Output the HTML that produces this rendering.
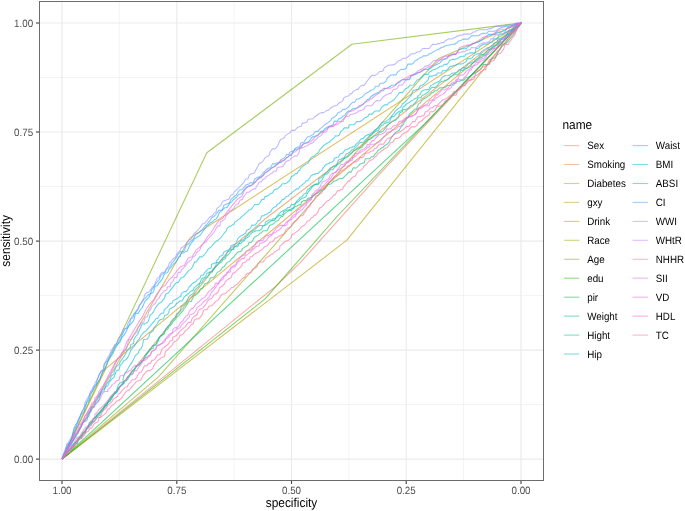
<!DOCTYPE html>
<html><head><meta charset="utf-8"><style>
html,body{margin:0;padding:0;background:#fff;}
body{width:685px;height:511px;overflow:hidden;}
svg{display:block;font-family:"Liberation Sans",sans-serif;will-change:transform;text-rendering:geometricPrecision;}
.gM{stroke:#EBEBEB;stroke-width:1.15;}
.gm{stroke:#EBEBEB;stroke-width:0.6;}
.cv path{fill:none;stroke-width:1.07;stroke-linejoin:round;stroke-opacity:0.62;}
.tk{stroke:#474747;stroke-width:1.15;}
.tl{font-size:9.8px;fill:#4D4D4D;}
.tt{font-size:11.9px;fill:#000;}
.ll{font-size:9.8px;fill:#000;}
.lk{stroke-width:1.1;stroke-opacity:0.5;}
</style></head><body>
<svg width="685" height="511" viewBox="0 0 685 511">
<rect x="0" y="0" width="685" height="511" fill="#fff"/>
<line x1="39.5" x2="543.5" y1="404.6" y2="404.6" class="gm"/>
<line x1="119.4" x2="119.4" y1="1.5" y2="480.5" class="gm"/>
<line x1="39.5" x2="543.5" y1="295.6" y2="295.6" class="gm"/>
<line x1="234.1" x2="234.1" y1="1.5" y2="480.5" class="gm"/>
<line x1="39.5" x2="543.5" y1="186.5" y2="186.5" class="gm"/>
<line x1="348.9" x2="348.9" y1="1.5" y2="480.5" class="gm"/>
<line x1="39.5" x2="543.5" y1="77.5" y2="77.5" class="gm"/>
<line x1="463.6" x2="463.6" y1="1.5" y2="480.5" class="gm"/>
<line x1="39.5" x2="543.5" y1="459.1" y2="459.1" class="gM"/>
<line x1="62.0" x2="62.0" y1="1.5" y2="480.5" class="gM"/>
<line x1="39.5" x2="543.5" y1="350.1" y2="350.1" class="gM"/>
<line x1="176.8" x2="176.8" y1="1.5" y2="480.5" class="gM"/>
<line x1="39.5" x2="543.5" y1="241.1" y2="241.1" class="gM"/>
<line x1="291.5" x2="291.5" y1="1.5" y2="480.5" class="gM"/>
<line x1="39.5" x2="543.5" y1="132.0" y2="132.0" class="gM"/>
<line x1="406.2" x2="406.2" y1="1.5" y2="480.5" class="gM"/>
<line x1="39.5" x2="543.5" y1="23.0" y2="23.0" class="gM"/>
<line x1="521.0" x2="521.0" y1="1.5" y2="480.5" class="gM"/>
<g class="cv">
<path d="M62.0,459.1 275.0,286.8 300.0,262.9 380.0,173.6 521.0,23.0" stroke="#F8766D"/>
<path d="M62.0,459.1 230.0,249.0 265.0,219.0 521.0,23.0" stroke="#EC823C"/>
<path d="M62.0,459.1 105.8,368.7 521.0,23.0" stroke="#DD8D00"/>
<path d="M62.0,459.1 190.0,238.0 521.0,23.0" stroke="#CA9700"/>
<path d="M62.0,459.1 346.9,240.2 521.0,23.0" stroke="#B3A000"/>
<path d="M62.0,459.1 158.7,376.7 438.6,58.4 521.0,23.0" stroke="#97A900"/>
<path d="M62.0,459.1 206.8,152.8 351.9,44.3 521.0,23.0" stroke="#71B000"/>
<path d="M62.0,459.1 265.1,298.9 337.0,216.5 521.0,23.0" stroke="#2FB600"/>
<path d="M62.0,459.1 425.0,123.7 521.0,23.0" stroke="#00BB4B"/>
<path d="M62.0,459.1 63.5,457.5 68.1,451.2 69.3,449.2 71.6,448.2 72.7,447.1 74.2,444.1 75.8,442.0 78.4,440.1 80.0,437.0 81.1,436.1 82.7,433.1 85.0,431.1 86.9,429.2 88.8,426.1 89.2,423.0 92.2,421.0 93.4,419.0 95.3,417.9 96.8,414.8 99.5,412.6 101.0,411.5 103.3,409.3 104.5,406.1 106.8,405.0 107.9,401.9 110.2,400.8 111.7,398.7 114.4,393.5 115.5,393.5 117.1,391.5 117.8,389.4 119.8,386.3 122.1,384.3 124.3,383.2 124.7,381.2 127.8,379.1 129.7,376.0 130.8,372.9 132.4,370.8 134.3,369.8 135.8,367.8 137.7,364.7 138.9,364.7 141.6,361.6 143.1,360.6 145.0,355.4 146.5,354.4 148.1,352.4 150.0,349.3 153.0,348.4 153.8,345.3 155.7,345.3 157.2,341.2 158.8,338.1 160.3,336.0 164.1,334.0 165.7,329.8 167.2,329.7 169.1,326.6 171.4,324.4 173.3,321.3 175.6,319.1 176.8,317.0 178.7,315.9 180.2,313.8 182.9,310.7 184.0,308.7 185.2,307.6 186.3,305.6 189.0,301.5 191.3,301.5 192.1,299.5 193.6,296.4 196.6,294.4 198.9,292.4 199.7,290.3 201.2,288.3 202.4,288.3 204.7,284.1 207.0,283.1 209.3,280.9 210.4,277.8 213.5,277.7 215.4,275.6 217.3,272.4 219.2,271.4 220.7,270.3 222.7,267.2 224.6,266.2 226.5,263.1 228.0,262.1 229.9,261.1 231.4,259.0 233.7,257.0 235.3,254.9 237.2,252.8 238.7,251.8 239.9,251.8 241.8,250.8 242.2,248.7 245.6,246.6 247.9,245.6 249.0,242.5 251.0,242.5 252.9,240.4 253.6,238.3 254.4,237.3 258.2,235.1 260.1,233.0 261.3,233.0 262.8,230.8 267.0,230.7 268.6,227.6 269.7,225.5 272.0,224.5 273.9,223.5 275.8,221.5 278.1,220.5 281.2,216.5 282.7,216.5 283.9,214.5 284.6,213.5 287.7,211.4 288.8,210.4 291.5,210.3 292.6,209.3 294.6,207.1 296.9,206.0 298.8,204.9 300.7,204.8 301.8,201.7 303.7,200.6 305.7,200.6 307.2,199.5 307.6,198.5 311.0,197.4 312.2,197.4 314.4,194.4 315.6,193.3 317.5,193.4 319.0,192.4 321.0,190.4 324.4,189.5 325.2,187.4 326.7,186.4 328.6,184.3 330.5,184.3 332.8,182.1 333.6,181.1 335.5,181.0 337.4,179.8 338.9,178.7 342.8,178.4 344.7,176.3 347.0,174.1 347.7,173.1 349.3,172.0 351.2,172.1 353.1,167.9 356.5,168.0 359.2,165.0 360.3,163.9 363.0,162.9 364.2,162.9 365.3,158.8 369.9,158.8 371.1,156.7 373.4,156.7 375.3,153.6 376.8,152.5 377.9,150.4 379.9,149.4 381.0,148.3 383.3,147.3 385.2,145.2 387.1,144.2 389.0,142.1 390.6,138.9 393.6,134.8 395.5,132.7 398.2,130.6 399.0,130.6 401.3,126.5 402.8,125.4 404.7,121.3 406.2,119.2 408.5,117.2 409.3,114.1 412.0,112.0 413.1,111.0 414.7,109.0 416.6,109.0 418.5,103.9 420.4,102.9 421.5,100.8 423.8,98.8 425.8,97.8 428.4,95.8 429.2,95.8 431.5,92.8 433.0,92.8 434.6,90.8 436.8,90.8 437.6,89.7 439.9,87.7 444.9,87.6 447.6,85.5 450.6,85.4 452.1,84.4 454.4,83.3 456.0,83.3 456.7,81.2 459.8,81.3 460.9,80.2 463.6,80.3 464.4,79.3 466.7,77.2 468.6,77.2 470.1,76.2 472.4,74.2 475.1,73.1 476.6,72.1 478.5,71.0 479.7,69.9 482.7,66.7 483.1,64.6 489.3,64.3 490.4,60.2 491.5,58.1 495.0,58.0 496.9,54.9 498.0,52.8 500.0,48.6 500.7,47.6 502.6,44.4 504.9,43.3 506.5,43.3 508.8,40.1 512.6,35.9 516.0,30.6 516.8,29.6 517.9,26.5 519.1,25.4 521.0,22.3 521.0,23.0" stroke="#00BF76"/>
<path d="M62.0,459.1 63.5,457.8 65.4,454.7 67.7,451.5 69.3,450.5 71.2,447.3 72.3,445.2 74.2,443.1 77.3,443.0 78.1,437.8 79.6,437.8 81.9,435.8 83.4,432.6 85.0,432.7 86.5,428.5 88.4,425.5 90.3,423.4 92.2,422.4 93.4,418.3 96.0,417.3 97.2,415.2 99.1,414.1 100.6,411.0 102.2,408.9 104.5,406.9 105.6,406.9 107.9,402.8 110.2,400.8 111.3,397.7 112.5,396.7 114.8,393.7 117.5,391.7 118.2,388.6 120.1,386.6 122.8,384.6 123.6,381.5 126.6,380.4 127.4,377.3 128.9,376.2 130.9,374.1 133.1,373.0 134.3,369.8 135.8,366.7 138.5,365.5 140.8,363.4 141.9,361.3 143.5,359.2 145.8,357.1 146.2,354.0 148.4,351.9 150.4,349.8 152.7,345.7 153.8,345.7 156.5,343.6 157.6,342.6 159.2,338.4 159.9,337.4 163.4,333.3 164.9,331.2 165.7,329.2 168.0,326.1 170.2,324.1 170.6,322.0 173.3,318.9 174.8,317.9 176.8,313.8 178.3,312.7 180.2,310.7 181.3,306.5 183.3,305.5 186.3,302.4 187.5,299.3 188.6,297.2 190.5,295.1 194.0,293.0 194.3,291.0 195.9,288.9 198.6,286.8 199.7,283.7 202.0,282.6 203.5,279.5 205.4,278.4 206.6,277.4 208.5,275.3 210.0,272.2 211.6,271.1 214.2,269.1 215.4,267.0 218.8,263.9 221.9,261.9 222.7,259.8 225.3,258.8 226.5,255.8 228.4,254.8 229.9,252.8 231.1,250.7 234.9,246.7 237.6,246.7 239.1,243.6 241.0,243.6 242.2,241.5 244.5,240.5 245.6,238.4 247.9,237.3 249.0,236.3 250.2,234.2 252.9,232.0 253.6,232.0 255.9,230.8 259.4,230.8 260.5,229.7 262.0,228.6 262.4,226.6 264.7,225.5 266.6,224.5 268.6,222.5 270.1,221.5 272.0,220.5 274.3,220.6 275.4,218.5 278.5,216.4 278.5,215.4 280.8,215.4 283.1,214.3 283.9,211.2 285.0,211.1 287.7,210.0 290.0,209.9 291.5,208.8 293.4,207.8 294.9,204.6 296.5,202.5 298.8,201.5 300.3,199.5 301.8,198.5 304.5,197.5 306.0,196.5 307.2,193.5 308.7,191.4 310.6,189.4 311.8,187.4 314.4,184.3 318.3,184.4 319.8,182.3 321.7,180.3 323.6,177.2 324.4,175.1 325.9,174.0 327.5,174.0 330.5,169.8 332.8,169.8 334.3,167.7 336.3,165.6 337.4,164.6 340.1,163.6 341.2,161.5 342.8,160.5 344.3,158.4 346.6,157.4 348.5,156.3 349.3,155.3 351.9,153.2 353.1,151.2 356.9,149.0 357.7,148.0 360.3,147.9 362.3,146.9 363.8,144.7 366.5,142.6 367.6,140.5 369.1,139.4 369.9,139.4 373.0,137.2 374.1,136.2 376.8,135.1 378.3,134.0 379.5,131.9 381.8,131.9 383.3,130.9 386.4,126.9 387.9,124.8 390.2,122.9 391.7,121.9 393.6,120.9 395.9,120.0 397.8,118.0 398.6,116.9 399.7,112.8 402.4,111.8 402.8,109.7 406.2,109.6 407.8,108.5 410.1,106.3 410.8,105.2 412.8,105.2 415.0,103.0 416.6,100.9 418.5,97.7 421.2,97.7 421.9,95.6 424.6,94.6 425.4,93.5 427.7,92.5 430.0,89.5 431.9,87.4 434.9,87.5 436.5,86.4 437.6,85.4 438.8,83.3 441.8,81.3 443.7,81.2 444.9,80.2 446.4,80.2 448.7,79.1 449.9,77.0 452.1,75.9 454.1,74.8 457.9,74.7 459.0,73.7 460.9,70.5 462.5,70.5 464.8,68.5 466.7,68.5 468.6,67.6 470.9,66.6 471.3,64.5 473.6,62.6 475.1,61.6 477.4,60.7 480.8,57.7 482.7,56.7 483.5,55.7 485.8,54.7 489.6,50.5 491.2,49.5 491.5,48.4 494.2,47.3 496.1,45.2 498.0,44.0 499.6,41.9 501.9,41.8 503.4,40.7 504.9,38.5 507.2,36.3 508.8,34.2 511.1,32.1 511.8,31.0 514.5,29.9 515.6,27.8 517.9,26.7 519.5,25.7 521.0,22.6 521.0,23.0" stroke="#00C098"/>
<path d="M62.0,459.1 63.9,457.1 65.4,454.9 66.6,453.9 68.5,450.7 71.2,449.7 73.1,447.6 75.4,444.4 77.3,443.4 78.1,441.3 79.6,439.3 81.5,438.3 82.3,436.2 85.0,433.2 86.5,429.1 88.4,428.1 89.9,425.0 91.8,424.0 94.5,420.9 96.4,418.9 97.2,416.8 99.9,414.8 100.2,412.7 102.9,410.7 104.5,407.6 105.2,404.6 107.9,402.5 108.7,400.5 110.6,397.4 113.6,393.3 114.8,392.3 116.3,391.3 118.2,385.1 119.8,383.0 122.8,381.9 123.6,376.7 124.7,373.6 127.0,370.4 129.3,366.2 130.8,364.1 132.8,360.9 134.7,356.6 135.4,355.5 138.1,353.3 139.3,350.1 141.6,347.9 142.7,344.7 143.5,339.5 146.9,339.3 148.8,337.2 150.0,333.0 153.0,331.0 153.8,327.9 155.7,325.8 157.2,323.8 158.8,320.7 160.3,319.7 163.7,318.7 164.5,315.6 167.6,314.6 168.7,312.5 169.5,309.4 170.6,308.4 172.9,307.3 174.8,306.3 176.8,303.1 177.5,303.1 179.8,301.0 182.1,301.0 183.6,297.9 185.5,295.8 188.2,293.8 189.0,292.8 191.3,290.8 192.8,290.9 194.0,287.8 199.7,283.0 201.6,279.0 203.1,278.0 205.4,277.1 207.0,273.0 208.5,273.0 209.6,272.0 212.3,272.0 213.1,268.9 215.8,265.8 216.5,262.6 218.8,262.6 222.7,258.3 224.6,257.2 226.5,254.0 227.6,251.8 229.9,250.7 231.4,249.5 233.7,249.4 234.1,246.3 236.0,246.2 238.3,244.1 240.6,241.0 241.8,240.0 243.3,240.0 245.6,237.0 247.9,235.0 249.0,232.9 252.1,230.9 254.4,229.9 257.8,226.7 259.4,225.6 264.7,225.3 265.5,222.2 268.6,220.0 272.0,219.9 272.8,218.9 275.1,218.9 278.1,214.7 279.3,213.7 281.2,211.7 286.9,208.7 287.7,207.6 289.6,207.6 291.5,204.5 293.4,204.6 295.3,203.5 296.5,201.5 298.8,199.4 299.9,197.4 302.2,196.4 303.7,194.3 306.0,193.3 307.6,189.1 309.1,189.1 310.6,187.0 311.8,186.0 314.4,184.9 316.7,183.8 318.3,183.8 319.0,178.6 321.7,177.5 322.9,175.4 325.5,173.4 327.1,172.3 328.6,170.3 329.7,168.2 332.0,167.2 333.6,166.1 336.3,166.2 338.5,160.0 341.2,159.0 342.8,158.0 343.9,158.0 346.2,153.9 348.5,152.9 349.3,152.9 351.9,149.8 353.1,149.8 355.0,147.8 357.3,145.7 358.8,143.6 360.3,142.5 362.6,142.5 364.2,141.4 366.1,139.3 367.2,138.2 369.1,136.1 371.1,135.1 374.5,131.9 376.4,130.9 377.9,130.9 379.9,127.8 381.4,125.7 383.3,124.7 384.1,123.7 386.7,122.7 389.8,121.7 390.6,118.6 392.1,116.5 394.0,116.6 395.5,114.5 397.5,112.5 399.0,111.5 402.0,110.4 402.8,107.3 404.3,106.3 406.2,104.2 408.2,103.1 411.2,101.0 413.1,99.9 414.7,98.8 417.3,97.7 418.1,95.6 420.0,94.6 421.5,91.5 423.1,90.5 426.1,89.5 428.1,89.6 429.2,88.6 430.7,85.6 432.6,84.6 434.2,83.7 438.0,81.8 439.9,80.8 441.8,77.8 443.0,76.7 444.9,75.7 448.3,75.5 449.5,75.4 452.1,73.2 456.0,72.9 457.5,71.8 459.4,69.6 460.6,69.6 463.2,67.5 465.2,67.5 466.3,66.4 467.8,64.4 469.0,63.4 471.7,62.5 474.0,61.5 475.1,59.5 476.2,59.5 478.5,57.6 480.8,54.5 483.9,54.6 487.7,50.4 488.5,49.4 491.2,49.4 493.5,46.3 494.2,46.3 496.5,45.3 500.3,40.1 501.9,39.1 503.8,39.2 505.3,37.1 507.2,34.0 509.5,34.1 510.7,33.1 511.8,30.0 513.3,30.0 514.5,28.9 517.6,24.8 519.5,23.8 521.0,23.8 521.0,23.0" stroke="#00C0B7"/>
<path d="M62.0,459.1 63.5,455.8 64.7,453.7 67.7,449.5 68.9,447.4 70.8,445.3 72.3,442.2 76.2,433.9 78.1,431.8 80.0,427.6 81.1,426.6 83.0,422.4 85.0,419.3 87.6,417.2 88.8,416.2 90.3,412.1 91.1,406.9 94.1,407.0 95.3,401.8 97.2,399.8 98.7,396.7 100.2,395.7 101.4,390.5 104.8,388.5 106.4,384.3 107.9,382.3 109.8,380.2 111.3,376.0 114.0,373.9 114.4,370.8 116.3,366.6 119.0,364.5 120.5,361.3 124.3,356.1 125.5,354.0 127.4,349.8 130.1,347.7 130.8,344.6 133.5,343.6 133.9,339.4 136.6,335.3 137.7,334.3 138.9,331.2 140.8,327.0 142.3,323.9 145.0,323.9 148.1,321.8 149.2,318.6 150.0,315.5 152.3,313.4 153.8,311.4 155.7,307.3 157.6,305.2 159.2,303.2 161.1,302.2 162.2,301.2 164.5,298.2 165.7,294.0 168.3,293.0 171.4,288.9 175.2,283.6 176.8,282.6 178.3,282.5 180.6,278.3 182.5,277.3 183.3,277.3 185.9,274.1 188.2,271.1 189.4,270.1 190.9,269.1 192.4,267.0 194.7,261.9 196.3,262.0 198.2,258.9 199.7,256.9 202.0,256.9 205.1,253.8 206.6,251.7 208.5,248.6 210.4,247.5 212.3,245.4 213.9,243.4 216.1,241.3 218.1,240.3 218.8,239.3 221.1,237.3 224.2,233.2 226.1,231.2 227.2,228.1 229.9,226.1 230.7,226.1 234.1,224.0 234.9,221.9 237.2,220.7 238.3,219.6 240.2,218.5 241.8,216.4 243.7,215.2 245.6,213.1 247.1,212.0 249.0,209.8 251.0,209.8 254.8,204.5 258.6,204.5 260.1,202.5 262.0,199.4 264.0,199.4 265.1,196.3 267.0,196.4 268.6,195.3 270.5,193.3 272.4,193.3 273.9,190.2 275.4,189.1 277.3,189.1 280.8,185.9 282.3,183.8 284.6,183.8 287.3,182.7 288.1,181.7 289.6,180.7 291.5,176.5 293.8,175.6 295.3,173.5 296.9,173.6 298.8,170.5 299.5,170.5 301.1,167.5 305.7,164.4 307.6,163.4 309.1,161.3 310.6,158.2 311.8,157.1 314.4,156.0 316.4,153.9 318.3,152.8 319.8,149.7 321.0,148.6 323.6,145.4 325.5,144.3 327.1,143.2 329.4,142.1 330.1,141.1 332.8,139.0 334.7,137.0 335.1,135.9 337.4,136.0 339.3,135.0 340.5,131.9 342.8,129.9 344.3,127.9 346.6,127.9 348.5,128.0 349.3,124.8 353.8,124.8 355.0,123.7 356.5,121.6 360.3,121.5 363.4,119.4 364.2,118.3 368.0,116.2 369.1,114.1 372.2,114.1 373.7,112.1 375.6,111.0 379.5,111.0 381.8,106.9 384.8,104.8 387.1,104.9 388.7,102.8 390.9,101.8 394.0,99.8 397.1,95.7 399.4,92.6 402.4,92.6 404.0,90.5 406.2,88.4 408.5,87.3 409.7,85.2 413.5,85.0 417.3,79.7 418.5,79.7 420.0,78.6 422.3,76.5 423.5,74.4 428.1,74.4 429.2,72.3 431.1,71.3 432.3,70.2 434.6,69.2 435.7,69.2 439.1,67.2 439.9,66.2 442.6,66.3 444.1,64.3 446.8,64.4 448.7,62.4 449.5,60.4 452.1,59.4 454.8,59.4 457.5,58.4 459.0,57.3 461.7,56.2 464.8,56.1 465.9,54.0 468.2,53.9 469.7,52.9 472.8,52.9 475.1,53.0 475.9,48.8 478.9,47.9 480.5,45.9 482.4,45.0 483.1,44.0 487.0,44.1 488.5,43.1 491.9,42.1 493.8,38.9 496.5,38.9 498.0,36.8 499.2,34.7 501.9,34.6 504.6,33.4 505.3,32.4 506.5,32.3 509.1,30.1 512.2,30.0 513.7,27.9 515.6,26.9 517.2,25.8 519.5,23.7 521.0,22.7 521.0,23.0" stroke="#00BDD1"/>
<path d="M62.0,459.1 63.5,454.9 65.8,452.7 67.4,449.6 69.3,445.3 71.2,443.2 72.3,442.1 75.0,437.9 76.5,435.8 78.8,431.6 80.4,428.5 81.5,426.5 82.7,422.3 85.0,421.3 86.9,420.4 88.8,413.2 95.7,404.2 98.0,402.2 99.5,398.1 100.2,394.0 102.5,391.9 104.1,390.9 105.2,386.8 107.9,385.7 109.0,382.5 111.7,379.4 114.0,377.2 116.3,370.9 119.0,369.8 120.1,365.6 122.1,363.5 124.0,360.4 126.3,359.4 127.8,357.4 129.3,354.3 130.8,350.2 132.4,348.2 134.3,346.2 136.2,343.1 137.4,341.0 139.3,339.0 141.6,334.8 142.7,333.7 144.6,331.6 146.5,330.4 149.2,327.1 150.0,326.1 153.8,321.7 156.1,318.5 157.6,318.4 158.8,316.3 161.1,313.2 163.7,313.2 164.1,310.1 166.0,308.1 167.6,307.0 169.5,304.0 172.2,303.0 172.9,300.9 174.5,299.9 176.8,298.8 179.4,296.8 180.6,296.8 181.3,293.7 184.0,291.6 185.9,291.7 187.8,289.6 188.6,287.6 191.7,284.5 192.4,283.5 194.0,282.5 195.9,281.5 197.8,279.4 199.7,278.4 201.2,275.3 203.1,275.3 204.3,273.2 207.0,270.1 208.1,269.1 211.2,268.0 211.6,264.9 212.3,263.9 215.8,262.8 216.9,260.7 218.8,258.5 219.6,256.4 222.7,255.3 223.8,252.1 225.7,251.0 228.4,249.9 229.9,248.8 231.1,245.7 234.1,244.6 235.7,243.6 237.6,239.4 238.0,238.4 240.2,236.3 242.5,235.3 245.2,233.3 245.6,233.3 246.7,230.2 249.4,229.3 251.0,227.2 251.7,225.1 254.8,225.2 256.7,223.1 257.8,221.0 260.1,220.0 261.7,215.9 264.0,215.8 264.7,214.8 267.8,213.8 268.6,212.7 270.8,211.7 272.4,208.6 273.5,207.6 276.2,206.6 277.0,204.5 278.9,203.5 281.2,201.5 282.3,199.4 283.9,199.4 286.5,196.3 288.1,196.3 289.6,194.2 291.5,193.2 292.3,192.1 295.3,190.0 296.5,188.9 298.4,188.9 299.5,186.9 304.9,182.7 306.0,180.7 307.6,180.7 311.4,175.5 313.3,174.5 314.5,174.5 315.6,173.5 317.9,173.5 320.2,171.4 321.7,170.4 323.6,167.3 325.2,165.3 326.7,164.3 329.4,163.3 329.7,162.2 332.0,162.3 334.0,160.2 334.3,158.2 337.4,157.2 338.2,157.2 340.1,154.1 342.8,153.0 345.1,149.9 348.5,148.8 350.0,147.7 351.9,147.7 352.7,146.7 354.2,146.7 356.5,143.6 359.2,141.6 360.3,139.5 362.3,138.6 363.0,138.6 366.1,135.5 368.0,134.5 369.9,134.6 370.3,133.5 372.6,132.5 374.1,130.5 375.6,129.4 377.9,128.4 379.9,125.2 381.4,123.1 383.3,122.0 384.8,122.0 386.7,120.9 387.9,119.8 390.6,117.6 392.1,115.4 394.0,113.3 395.2,111.1 397.8,109.0 399.7,107.9 401.7,105.8 402.4,103.7 404.3,102.7 410.1,96.5 411.6,94.4 413.1,90.3 414.7,90.3 417.0,89.3 418.5,89.3 420.4,85.2 422.3,85.2 423.8,84.2 425.8,82.2 428.1,80.2 429.2,76.1 432.6,76.1 434.9,75.1 436.8,75.1 437.2,73.0 441.4,72.9 442.6,70.8 445.3,70.7 447.6,69.6 449.9,66.4 452.1,66.3 454.1,65.2 455.6,65.2 457.5,64.0 460.2,64.0 462.5,63.9 464.0,62.9 465.9,61.9 467.4,58.8 469.7,58.8 472.0,57.9 473.6,55.8 475.1,54.9 477.0,53.9 478.5,53.9 480.5,52.9 481.2,51.9 483.9,49.9 485.8,48.9 487.0,47.8 488.9,47.9 490.4,46.9 493.1,44.9 494.6,42.8 497.3,41.9 498.0,38.8 501.1,38.9 503.8,36.9 505.3,35.9 507.2,34.9 508.0,31.8 510.3,30.9 511.8,29.9 513.7,29.9 516.0,26.8 517.2,24.7 519.1,23.7 521.0,23.7 521.0,23.0" stroke="#00B7E8"/>
<path d="M62.0,459.1 63.5,453.9 65.4,450.8 68.5,444.5 69.7,442.5 71.2,439.4 72.7,434.2 75.0,430.1 76.2,425.9 78.4,419.7 81.1,414.6 84.2,411.4 85.0,407.3 86.9,402.1 88.8,401.0 90.3,395.8 91.5,392.6 93.4,389.5 95.3,385.3 98.0,382.1 100.2,379.0 101.0,375.9 102.5,371.8 104.8,369.8 106.4,365.7 107.9,360.6 108.3,359.5 111.7,355.5 112.9,353.5 114.8,349.3 115.9,347.3 118.6,343.1 120.1,342.0 121.7,337.8 124.3,334.6 126.3,331.5 128.2,326.2 130.8,324.0 133.5,320.8 134.3,318.6 135.4,313.4 138.5,313.3 140.0,310.1 141.9,308.0 143.5,304.9 144.6,301.8 147.7,298.7 148.8,297.7 150.7,293.6 153.0,292.6 153.8,290.6 154.9,286.5 157.6,285.5 158.4,283.5 161.4,280.5 163.0,277.5 164.1,274.4 166.0,273.4 167.6,272.4 169.1,269.3 171.0,267.3 173.3,264.2 174.8,263.1 176.8,261.0 179.0,256.7 180.2,256.7 181.0,253.6 184.4,252.4 185.9,251.4 187.1,251.3 189.4,246.1 191.3,243.0 193.2,240.9 194.3,238.8 196.3,237.8 197.8,236.7 199.7,235.7 207.4,225.2 208.1,225.2 210.0,223.1 212.3,222.0 214.2,220.0 216.1,218.9 217.7,216.9 219.2,212.8 224.9,207.7 226.1,207.7 227.6,206.7 229.5,203.6 231.8,201.6 233.4,199.5 235.3,198.4 237.2,196.3 238.7,194.2 240.6,194.2 241.8,193.1 244.1,190.0 245.6,188.9 247.5,186.7 249.0,185.6 251.0,185.6 253.3,183.4 254.8,182.3 258.6,178.1 259.0,178.1 261.3,177.1 263.6,175.0 264.7,172.9 267.0,171.9 268.6,170.8 272.0,167.7 274.3,166.6 276.2,164.5 277.3,164.5 279.6,162.4 281.2,162.4 281.6,161.4 284.2,160.4 286.9,157.3 288.1,157.3 289.6,155.3 291.5,155.4 292.6,152.3 294.9,149.3 296.1,149.4 298.8,148.4 301.1,147.4 302.2,145.4 304.1,143.3 305.3,143.3 307.6,142.2 309.1,141.1 311.4,138.0 312.5,136.9 314.4,136.8 316.0,135.7 317.9,135.6 321.0,131.4 322.9,131.4 324.4,129.2 327.1,127.2 329.4,126.1 330.1,126.1 332.8,125.2 334.0,122.1 334.7,121.1 337.4,121.2 338.5,119.1 340.8,118.2 343.1,116.1 345.0,115.1 346.2,113.1 348.5,111.0 350.4,111.0 352.7,108.8 353.5,108.8 357.3,107.7 359.6,105.6 360.3,105.6 363.0,104.6 363.8,103.5 365.7,101.5 367.2,99.6 369.5,98.7 370.7,96.7 373.7,94.8 377.6,92.8 378.7,92.9 380.2,90.8 383.3,90.7 384.8,88.6 386.7,88.5 388.3,87.4 390.6,86.3 391.3,85.2 395.2,85.0 397.8,82.8 398.6,82.8 400.1,81.7 402.4,79.6 406.2,79.5 409.7,79.6 410.8,75.5 412.4,75.5 415.4,74.5 417.0,73.5 418.1,72.5 419.6,72.5 421.9,70.5 424.2,69.5 428.1,69.5 429.2,68.4 429.6,68.4 431.9,67.4 434.2,65.4 438.8,63.5 440.3,62.6 441.8,60.6 443.4,59.6 447.2,57.7 448.3,55.6 449.1,55.6 452.1,54.6 455.6,54.5 458.7,50.2 460.2,49.0 464.0,48.8 466.3,48.7 468.2,46.5 470.5,45.4 471.3,44.4 472.8,43.3 475.1,43.4 477.0,42.4 477.8,42.4 481.2,40.5 482.7,39.5 483.9,38.5 485.8,36.5 487.7,35.5 488.5,34.4 491.9,34.4 494.6,34.3 496.5,32.2 499.2,32.1 501.9,32.0 502.6,31.0 505.3,30.9 507.2,27.8 508.0,27.9 512.6,25.9 513.7,25.9 515.6,23.9 519.1,23.9 521.0,22.9 521.0,23.0" stroke="#00AEFA"/>
<path d="M62.0,459.1 65.1,453.9 65.8,448.7 67.0,443.5 69.3,443.5 71.9,438.4 72.7,434.2 73.9,429.0 75.4,424.9 78.1,421.8 80.0,417.6 81.5,412.4 85.0,406.2 86.9,402.0 88.4,398.8 89.9,393.6 92.2,391.6 93.7,387.4 96.4,385.3 96.8,380.1 98.3,377.0 101.0,370.8 103.7,369.8 104.1,365.6 105.6,362.5 107.9,360.4 108.7,358.3 111.7,351.9 112.9,349.8 114.8,345.6 117.1,344.5 118.6,342.3 120.9,338.2 122.1,335.0 125.1,328.9 127.8,328.0 129.7,323.9 130.8,318.8 132.8,317.9 134.3,313.8 137.0,310.9 138.1,308.8 139.3,305.7 140.8,303.7 143.1,299.6 145.0,298.5 146.2,297.4 147.7,295.3 150.7,293.2 151.5,290.1 153.8,286.9 154.2,285.9 157.2,281.8 159.2,279.7 160.7,275.6 163.4,273.5 164.5,272.5 166.0,269.4 167.6,268.4 170.2,266.3 171.8,263.2 172.9,262.1 176.8,256.9 177.5,254.8 180.6,251.6 183.6,251.6 185.2,248.4 186.3,245.3 189.4,243.2 190.5,241.2 192.4,240.1 194.3,237.0 195.9,233.9 197.0,233.9 199.7,231.9 202.0,229.8 205.1,225.7 206.6,224.7 208.1,222.7 210.0,220.6 211.9,217.5 213.9,216.5 215.0,215.5 218.8,210.4 220.7,210.4 222.7,209.4 223.8,205.2 226.1,204.2 229.2,203.2 230.3,201.1 231.1,199.1 233.7,197.0 234.9,196.0 236.4,195.0 238.0,191.9 239.9,189.8 241.8,189.7 242.9,188.6 245.6,185.3 247.5,184.2 249.0,184.0 249.8,182.9 253.3,182.7 254.4,179.5 255.5,178.4 258.2,177.3 260.5,176.2 263.6,172.1 265.1,171.1 265.9,170.0 268.6,168.0 270.5,168.0 272.4,163.9 275.1,163.9 277.0,162.8 279.3,162.8 280.8,159.7 283.5,158.6 285.4,156.5 286.5,154.5 288.8,154.5 289.6,152.4 291.5,151.4 294.2,150.4 295.3,148.3 296.5,147.3 298.4,147.3 300.3,145.2 300.7,143.1 304.1,142.1 305.3,140.0 307.6,136.8 309.9,136.8 310.6,135.7 313.3,134.6 314.5,132.5 316.0,131.4 318.3,131.4 319.4,129.3 322.1,127.2 324.4,125.2 325.2,124.2 327.5,123.2 330.9,120.3 332.0,118.3 334.0,117.3 336.3,115.4 337.4,113.4 338.5,112.4 341.2,111.4 342.8,109.4 345.4,109.4 348.1,107.4 348.9,106.4 352.7,102.2 354.6,102.2 356.5,99.0 358.8,99.0 360.3,97.9 362.6,96.8 364.2,94.7 365.3,93.7 367.6,92.6 369.1,91.5 370.3,90.5 373.4,89.4 374.5,88.3 375.6,86.3 378.7,86.3 380.2,83.2 383.3,83.2 386.0,81.2 386.7,79.1 388.3,77.1 390.9,75.0 394.0,74.9 395.9,74.9 397.8,71.7 398.6,71.6 400.5,69.5 404.0,69.4 406.2,68.3 407.8,64.1 412.0,64.1 413.5,63.0 414.7,61.0 417.0,60.0 418.1,58.9 419.6,57.9 422.3,56.9 423.1,55.9 425.8,55.9 428.1,55.0 429.2,54.0 431.5,53.0 434.6,51.1 436.5,50.1 438.8,49.2 441.8,47.2 443.0,47.3 444.5,46.2 447.6,45.2 448.7,45.3 452.1,44.2 455.2,44.3 455.2,43.2 456.7,43.2 458.3,41.2 461.3,40.2 462.9,39.1 468.2,39.1 469.4,38.0 471.3,35.9 475.1,35.8 478.9,35.6 480.1,34.5 482.4,33.4 487.0,33.3 488.5,31.2 492.7,31.2 494.2,31.2 496.9,30.2 498.0,29.2 501.9,27.3 503.4,27.3 505.3,26.3 508.0,26.4 510.7,25.4 512.2,25.4 514.1,24.4 516.0,24.4 517.2,23.4 521.0,23.4 521.0,23.0" stroke="#3DA1FF"/>
<path d="M62.0,459.1 63.1,456.8 65.4,448.4 67.4,445.2 68.9,441.0 71.9,436.8 74.2,428.5 76.5,426.4 78.1,420.1 81.9,411.9 83.8,408.8 85.0,402.5 86.1,400.5 88.8,396.3 90.3,392.1 92.2,389.0 94.9,383.8 95.7,381.7 97.2,380.7 99.1,374.5 101.0,372.4 103.3,369.4 104.1,364.2 106.4,360.2 107.9,357.1 109.4,355.1 111.0,351.0 114.8,344.8 116.3,343.8 118.2,338.6 120.9,335.4 122.8,332.2 123.2,329.1 126.6,328.0 127.8,323.8 129.3,320.7 130.8,318.6 132.0,316.5 136.6,310.4 138.5,308.4 139.3,305.3 141.9,302.2 143.5,300.2 144.6,295.0 146.1,293.0 148.8,292.0 150.7,289.9 152.3,286.8 153.8,286.8 155.3,282.6 157.2,278.4 158.8,277.4 161.1,273.2 162.6,272.2 165.3,272.2 166.0,270.2 168.3,266.1 169.5,263.0 170.6,262.0 172.9,259.0 175.6,257.0 176.8,253.9 178.7,251.9 179.8,250.9 181.3,247.8 183.3,246.8 185.5,244.7 186.7,242.6 189.4,239.5 190.9,239.5 192.4,236.4 194.3,233.2 195.9,232.2 197.0,231.1 199.7,228.0 201.2,225.9 202.4,223.8 204.3,223.7 207.0,220.6 209.3,217.5 210.8,216.5 212.7,215.5 213.5,213.5 215.8,212.5 216.9,208.4 219.6,206.4 220.7,205.4 222.7,201.2 223.0,201.2 225.7,200.2 229.2,199.0 229.9,196.9 231.4,194.8 232.6,194.8 234.5,191.6 240.2,186.3 244.1,182.1 245.6,179.0 247.9,179.0 249.4,174.8 251.3,173.8 252.5,173.8 254.4,172.8 255.5,170.7 258.2,165.5 259.0,163.4 261.7,162.4 263.6,160.3 264.7,158.2 265.9,157.2 268.6,156.1 270.1,152.0 272.4,148.9 274.7,148.9 276.2,147.9 277.7,145.9 278.9,142.8 280.4,139.7 282.7,138.7 284.2,137.7 285.4,135.6 288.4,133.6 290.4,132.5 291.5,130.4 294.9,130.4 295.7,129.4 297.6,127.3 301.4,126.2 302.2,123.1 304.1,123.1 306.8,122.1 307.6,120.1 309.1,119.0 312.9,119.0 314.5,117.0 319.0,113.8 321.3,112.6 323.6,112.6 325.5,111.4 326.7,110.4 328.6,110.3 330.1,108.2 332.4,107.1 333.6,106.0 334.7,106.0 337.4,105.0 338.9,102.9 341.2,101.9 342.8,100.8 343.9,97.7 345.8,96.7 348.9,95.7 350.4,93.6 351.9,93.6 353.1,91.5 355.0,90.4 356.5,89.4 358.1,89.4 360.3,86.3 362.6,85.3 364.2,85.4 364.9,84.4 367.6,80.3 369.5,78.4 371.4,75.4 374.9,75.5 377.9,73.6 379.5,71.5 381.8,71.5 383.3,70.5 384.4,67.4 386.7,66.3 387.9,65.2 394.0,64.9 395.5,63.8 397.5,61.6 399.0,60.5 400.5,60.4 402.8,58.3 406.2,58.2 408.9,56.0 411.2,53.9 414.7,53.8 415.8,52.8 418.1,51.7 420.0,51.7 422.7,48.5 426.5,48.5 429.2,48.5 430.7,46.5 432.6,44.4 436.8,44.5 437.6,43.5 439.9,43.6 441.4,42.6 443.7,42.7 445.3,40.7 447.2,39.8 448.7,38.8 452.1,39.0 453.7,38.0 456.0,37.1 456.4,36.0 458.3,36.1 460.6,35.1 462.5,35.1 463.6,34.1 470.5,34.1 472.0,33.0 473.2,32.0 475.1,32.0 476.2,30.9 478.9,29.8 485.4,29.7 487.0,29.7 489.6,28.6 490.8,28.6 495.4,26.4 503.4,26.2 506.1,25.1 510.3,25.0 512.2,25.0 514.1,24.0 516.4,23.0 521.0,23.0 521.0,23.0" stroke="#8F91FF"/>
<path d="M62.0,459.1 64.7,455.1 67.0,449.0 69.7,447.0 70.8,442.9 71.9,439.8 73.9,436.7 75.8,431.5 77.7,430.5 78.4,425.3 81.9,423.2 83.0,422.1 85.0,415.9 86.1,415.8 88.8,409.5 90.3,407.4 91.8,403.2 94.5,401.0 94.9,397.9 97.6,395.7 99.1,391.5 101.0,388.3 102.9,386.1 104.5,383.0 106.0,380.9 107.9,377.8 110.2,374.7 111.7,371.6 112.1,370.6 114.4,365.4 117.1,360.3 118.6,358.3 120.9,356.2 121.7,353.1 123.6,351.1 126.3,349.0 127.4,344.8 128.9,339.6 130.8,339.5 132.8,336.4 134.3,334.2 137.0,332.1 138.1,326.9 139.6,325.9 141.2,322.7 143.9,321.8 145.0,317.6 147.3,316.7 148.8,311.6 150.4,309.6 151.9,306.5 153.8,304.5 155.3,303.5 157.2,299.4 158.8,298.4 161.1,294.2 162.2,293.2 164.1,291.1 166.8,290.0 167.2,286.9 170.2,286.8 171.0,282.7 172.9,281.6 174.5,277.5 176.8,277.5 178.3,272.3 180.6,272.4 181.7,269.3 183.3,268.2 185.5,266.1 187.8,262.0 188.6,262.0 191.3,259.9 193.2,256.7 195.1,255.7 196.6,252.5 197.8,251.5 199.7,250.4 201.2,246.3 203.5,243.2 205.8,242.2 207.0,240.1 210.8,236.0 211.9,235.0 214.2,232.0 217.7,225.8 220.0,225.9 220.4,221.8 222.7,220.8 224.9,218.8 226.1,215.7 228.0,213.6 229.9,210.5 231.4,210.5 233.7,208.4 234.9,206.3 236.4,204.2 238.0,204.2 240.2,199.9 242.2,199.8 243.7,196.6 245.6,194.5 246.7,192.3 248.7,192.2 253.3,188.9 255.5,188.9 256.3,186.8 257.8,184.7 259.0,182.6 261.3,181.6 262.8,179.5 265.1,178.5 266.3,176.4 268.6,175.4 271.2,173.3 272.0,173.3 273.9,171.2 276.2,171.2 277.0,168.1 279.3,167.0 281.2,167.0 283.5,165.9 283.9,164.9 285.8,161.8 287.7,160.8 290.0,159.9 291.5,157.9 293.4,156.9 294.9,155.9 297.2,156.0 298.8,152.9 299.9,148.8 302.2,147.8 303.4,147.8 304.1,146.8 307.2,145.7 308.7,144.6 313.3,142.4 314.4,140.3 316.4,139.2 318.3,137.1 320.2,136.1 321.7,135.1 322.5,133.0 324.8,132.0 326.3,132.0 328.2,127.9 330.1,126.9 331.3,126.9 333.6,124.8 337.4,124.7 340.1,122.6 341.2,121.5 343.1,121.5 343.9,119.4 345.8,116.3 348.9,116.3 350.8,114.2 353.1,114.1 355.8,113.0 356.9,113.0 358.4,110.9 360.3,110.9 362.3,109.8 363.8,109.8 364.6,107.7 366.9,105.7 371.8,105.7 374.1,102.7 376.4,100.6 380.2,100.7 383.3,96.6 385.6,95.5 386.7,94.5 389.4,93.4 390.9,93.4 391.7,92.3 393.6,89.2 395.9,89.2 397.5,88.1 399.0,85.0 402.4,85.0 405.1,80.9 406.2,79.9 408.2,77.8 410.1,77.9 412.0,75.9 413.1,74.8 415.8,72.8 417.0,71.8 420.0,69.8 422.3,68.8 424.6,66.8 426.1,65.8 427.7,65.8 430.7,63.7 432.6,61.6 433.8,60.6 438.4,60.4 440.3,59.3 443.7,59.2 445.6,59.2 447.6,58.1 448.3,57.0 452.1,55.0 453.7,53.9 455.6,53.9 457.1,52.9 459.4,52.9 461.3,51.9 464.8,51.8 465.9,50.8 468.2,49.7 470.1,49.7 471.3,47.6 476.2,47.7 479.7,44.6 483.5,42.7 486.2,42.8 488.1,41.9 489.3,41.9 490.8,38.9 492.3,38.9 494.2,36.9 495.8,34.8 498.0,34.9 500.0,33.8 502.6,33.7 504.9,32.6 507.6,31.5 509.1,30.4 511.1,30.3 512.6,28.2 513.7,27.1 515.3,25.0 517.9,25.0 519.9,24.0 521.0,22.9 521.0,23.0" stroke="#BE80FF"/>
<path d="M62.0,459.1 63.1,457.2 66.2,453.0 68.1,450.9 70.4,447.8 72.3,444.6 73.9,443.5 75.8,439.4 77.7,437.2 80.0,436.2 81.5,433.0 83.0,431.0 85.0,427.8 86.5,426.8 88.8,424.8 89.5,422.7 92.6,419.7 94.5,417.7 94.9,414.5 97.2,412.5 99.1,409.5 102.5,406.4 104.5,404.3 105.6,403.2 111.0,395.8 113.3,394.7 114.8,391.5 117.1,391.4 119.0,389.3 120.5,386.1 123.6,381.9 127.0,378.8 127.0,377.7 128.9,375.7 130.9,374.6 132.4,374.6 134.7,370.5 136.6,370.6 138.5,367.5 141.6,363.5 143.1,360.5 144.2,360.6 147.3,358.7 148.4,355.6 150.4,355.7 151.5,351.6 153.8,350.6 155.7,349.6 156.9,345.4 158.4,345.4 160.7,344.3 164.5,339.9 168.3,337.6 169.9,335.4 171.8,333.3 174.8,331.1 176.8,328.9 177.9,328.9 179.8,327.9 182.5,323.8 185.9,320.8 187.5,318.8 189.4,316.8 189.8,314.7 193.2,313.8 194.3,312.8 196.3,309.7 197.0,307.7 199.7,305.6 201.6,304.6 202.8,302.5 205.1,300.4 207.0,299.3 208.9,297.2 209.6,296.2 211.6,292.0 213.1,291.0 215.4,287.9 217.3,284.8 218.8,283.8 220.4,280.6 222.7,279.6 224.2,276.5 226.1,275.4 228.0,272.2 229.2,270.1 231.4,266.9 233.4,265.8 235.7,264.7 236.8,261.5 238.3,260.4 240.6,257.2 242.2,256.1 244.8,255.0 245.6,251.9 247.5,250.8 249.0,250.8 252.5,248.8 252.9,246.7 254.8,245.7 256.3,242.6 257.1,241.6 258.6,240.6 262.8,240.7 265.1,236.6 266.6,235.6 268.6,235.6 269.7,234.6 271.2,234.6 273.9,231.5 275.4,229.5 277.3,227.4 278.9,226.4 280.0,225.4 284.2,225.4 286.1,222.3 287.7,221.3 290.0,219.3 291.5,217.2 293.4,215.2 295.3,214.2 295.7,214.2 297.2,210.0 299.9,209.0 302.2,205.9 304.5,204.8 305.7,203.8 307.2,200.7 309.5,199.6 310.6,199.6 312.2,194.4 314.5,192.4 315.2,191.3 318.3,189.2 320.6,186.1 321.0,184.0 322.9,181.8 325.2,180.7 326.7,179.6 329.0,178.4 330.1,175.3 332.4,173.1 333.6,173.0 336.3,171.9 337.4,169.8 341.2,164.5 343.9,164.4 344.3,163.4 346.6,161.3 349.6,161.3 352.3,160.3 352.7,157.2 353.8,157.3 356.5,155.3 357.7,154.3 360.4,152.3 362.6,151.4 364.2,150.4 366.9,148.4 367.2,147.4 368.8,147.4 370.7,144.3 374.5,144.3 376.4,143.3 377.6,142.3 379.5,142.3 380.6,141.3 383.3,137.2 385.6,135.1 386.7,133.0 389.0,132.0 390.6,132.0 392.9,129.9 394.4,129.9 396.3,128.8 398.2,126.7 399.0,126.7 401.7,125.6 402.4,122.5 405.9,120.4 406.2,117.2 410.1,117.1 411.6,116.1 413.9,114.9 415.8,113.8 417.7,110.7 418.5,109.6 418.9,108.5 423.1,106.3 425.0,105.3 425.8,104.2 427.7,104.2 429.2,101.1 430.7,100.1 432.6,100.1 434.2,98.0 436.1,94.9 437.6,94.9 439.5,92.9 441.8,89.8 444.9,89.8 446.8,88.8 448.3,87.8 452.1,82.8 454.8,81.9 456.0,79.8 457.9,78.9 459.4,75.8 461.7,74.9 463.2,74.9 464.4,73.9 466.3,70.8 468.6,69.8 470.1,68.7 471.3,67.7 473.2,65.6 475.1,64.5 476.2,62.4 478.5,62.4 480.8,59.2 482.7,58.2 483.9,58.1 485.8,55.0 488.5,52.8 489.3,50.7 490.4,49.6 492.7,48.5 494.2,48.5 497.3,47.3 498.0,45.2 500.7,42.0 501.1,39.9 502.6,38.9 505.3,37.8 507.2,35.7 509.1,35.7 511.1,32.6 513.3,32.6 515.3,27.5 517.9,23.4 520.2,23.5 521.0,22.5 521.0,23.0" stroke="#DE71F9"/>
<path d="M62.0,459.1 63.5,458.1 65.4,451.8 67.0,449.7 68.5,446.6 70.8,443.5 73.1,439.3 73.5,436.1 75.4,434.0 78.1,432.9 80.0,428.8 82.3,424.6 83.0,422.5 85.0,421.5 86.9,417.4 88.4,412.2 91.5,411.3 91.8,408.2 93.7,407.2 95.7,403.0 97.2,402.0 99.5,399.9 100.6,397.8 101.8,394.7 104.8,391.5 107.9,391.5 107.9,389.4 110.6,387.3 111.7,385.2 112.9,384.1 114.8,383.1 116.3,381.0 119.0,380.0 120.1,375.8 121.7,375.8 124.3,374.8 125.5,372.7 127.4,372.8 128.9,370.7 130.8,370.7 132.4,367.6 134.7,365.6 137.4,365.6 138.5,364.6 139.3,362.5 141.2,360.5 143.5,360.6 145.0,358.5 146.5,357.5 148.8,356.6 150.4,354.5 151.9,351.4 153.8,350.4 156.5,347.3 157.6,345.2 159.2,345.1 160.7,344.0 163.4,342.9 164.9,341.7 165.7,338.6 167.6,336.4 169.1,334.2 172.2,333.1 172.9,329.9 174.5,327.8 176.8,327.7 178.3,326.7 180.6,322.5 183.3,320.5 184.0,318.4 185.9,316.4 187.5,315.5 189.4,311.4 191.7,308.3 193.2,308.4 195.1,305.3 195.9,304.3 198.2,302.2 199.7,301.1 201.6,299.0 203.5,298.0 205.1,296.9 206.6,294.8 208.5,291.7 211.2,289.6 211.9,288.5 214.6,286.5 215.4,283.4 218.1,283.4 218.8,282.4 220.0,280.3 222.7,277.2 224.6,275.2 226.1,274.1 227.2,272.1 230.3,272.1 231.1,267.9 233.7,266.9 234.9,266.9 236.4,264.8 238.0,261.7 239.9,260.7 241.8,258.6 244.1,258.6 245.6,255.5 247.5,254.4 249.0,253.4 251.0,251.3 253.3,249.3 255.2,247.2 256.7,246.2 259.0,246.2 259.8,243.1 261.7,243.2 263.6,242.2 266.6,240.1 268.6,237.1 271.6,235.1 273.5,233.1 276.2,232.1 276.6,231.0 278.9,230.0 281.2,228.0 282.7,225.9 284.2,225.9 286.9,224.8 287.7,221.6 288.8,220.6 291.5,219.5 293.4,217.3 295.3,216.2 296.5,214.1 298.8,212.0 300.3,211.0 303.0,208.9 303.4,207.8 306.0,205.7 306.8,203.7 308.7,201.6 311.4,199.5 312.2,195.4 314.5,195.4 315.6,194.3 317.5,191.2 320.6,189.1 322.1,187.0 323.2,186.0 329.0,179.7 330.5,178.7 331.3,177.6 333.6,173.4 335.5,172.4 337.4,170.3 341.2,168.1 342.4,167.0 344.7,166.0 346.6,162.8 348.1,162.8 350.4,159.7 351.9,158.7 353.8,156.6 355.0,153.5 356.9,153.6 358.4,152.6 360.3,150.6 362.6,149.6 364.2,148.6 366.5,146.6 367.2,144.5 368.8,144.6 370.7,142.6 372.2,140.5 373.7,140.6 376.0,137.5 377.2,136.5 379.9,134.4 381.4,134.3 383.3,133.3 386.0,131.1 386.7,129.0 390.9,128.9 392.5,126.7 393.6,125.7 395.5,125.6 397.1,124.6 399.4,121.4 400.5,121.4 402.8,120.3 404.7,118.2 406.2,118.2 408.2,117.2 408.5,116.1 412.8,116.1 413.9,115.1 415.8,114.0 417.0,112.0 418.5,108.8 419.6,108.9 422.3,107.8 423.8,105.7 429.2,105.6 430.0,103.6 433.0,100.4 434.6,100.4 435.3,98.3 438.0,97.2 438.8,96.2 441.1,95.1 443.0,94.1 445.3,92.0 447.2,90.0 451.0,87.9 452.1,85.9 453.7,84.9 455.6,81.8 457.9,79.7 462.9,79.8 464.8,76.8 467.1,74.8 469.4,70.7 471.3,69.7 472.8,66.6 475.1,65.6 477.0,64.6 478.9,62.6 482.7,60.4 484.7,59.4 485.8,58.3 486.6,55.2 488.5,54.1 492.3,50.9 492.7,49.8 494.6,48.8 496.1,48.7 498.0,45.6 500.0,43.5 501.9,42.4 504.2,40.3 505.3,38.2 506.8,37.2 509.1,36.2 510.3,33.1 511.8,32.0 514.9,28.9 516.4,27.9 517.6,25.9 519.9,24.8 521.0,22.8 521.0,23.0" stroke="#F265E7"/>
<path d="M62.0,459.1 65.8,453.7 69.7,444.0 73.5,438.7 77.3,432.3 81.1,423.6 85.0,415.9 88.8,410.3 92.6,404.6 96.4,397.9 100.2,392.4 104.1,385.0 107.9,376.6 111.7,369.3 115.5,361.9 119.4,356.5 123.2,351.1 127.0,341.2 130.8,335.6 134.7,329.0 138.5,322.4 142.3,316.9 146.1,309.2 150.0,303.8 153.8,299.5 157.6,293.0 161.4,287.5 165.3,285.3 169.1,279.8 172.9,276.5 176.8,271.0 180.6,266.6 184.4,265.5 188.2,257.9 192.1,256.8 195.9,250.4 199.7,247.2 203.5,243.1 207.4,236.8 211.2,232.6 215.0,226.2 218.8,220.6 222.7,218.2 226.5,212.5 230.3,207.8 234.1,203.2 238.0,198.7 241.8,196.5 245.6,187.8 249.4,186.6 253.3,184.4 257.1,180.0 260.9,177.8 264.7,173.4 268.6,170.1 272.4,167.9 276.2,165.7 280.0,161.3 283.9,160.2 287.7,156.9 291.5,153.7 295.3,151.6 299.2,148.4 303.0,144.1 310.6,141.9 314.5,137.6 318.3,134.4 322.1,132.2 325.9,129.9 329.8,126.5 333.6,126.5 337.4,122.1 341.2,121.2 345.1,117.1 348.9,111.8 352.7,110.8 356.5,108.6 360.4,106.4 364.2,103.0 368.0,100.7 371.8,98.5 375.7,95.2 379.5,92.9 383.3,88.4 387.1,88.3 390.9,88.1 394.8,85.9 398.6,81.7 402.4,79.6 406.2,77.6 410.1,75.4 413.9,74.2 417.7,73.0 421.5,71.8 425.4,68.5 429.2,66.5 433.0,65.6 436.8,62.6 440.7,59.5 444.5,56.3 448.3,56.3 452.1,54.1 456.0,54.1 459.8,47.5 463.6,46.3 467.4,45.1 471.3,45.0 475.1,42.7 478.9,40.5 482.7,37.4 486.6,36.5 490.4,35.6 494.2,33.5 498.0,30.4 501.9,29.3 505.7,29.2 509.5,26.9 513.3,25.7 517.2,24.5 521.0,23.3 521.0,23.0" stroke="#FE61CF"/>
<path d="M62.0,459.1 63.1,458.1 65.4,454.0 67.7,451.8 68.9,449.7 71.9,447.6 75.4,444.5 76.5,441.3 77.7,439.2 80.4,438.2 81.5,437.1 83.4,433.0 85.0,431.9 86.9,427.8 88.4,426.7 91.1,425.6 91.8,422.5 94.5,421.4 96.0,418.3 97.2,417.3 99.9,417.3 100.6,416.3 102.5,411.1 104.1,410.1 106.0,408.1 107.9,405.1 110.2,403.1 111.7,402.2 113.3,399.1 117.8,396.2 118.2,394.1 120.1,393.1 121.7,391.1 125.5,387.0 127.0,387.0 128.6,383.9 130.8,381.8 132.0,379.7 134.7,379.7 136.6,377.6 138.1,374.5 139.6,372.3 141.2,372.3 143.5,368.1 144.2,365.9 146.9,365.8 148.4,363.6 150.4,363.5 151.9,360.3 153.8,360.2 154.9,359.1 157.6,354.8 159.9,354.8 162.2,348.6 164.1,347.5 166.4,345.5 168.0,344.5 169.9,341.3 172.5,340.3 172.9,337.2 175.6,336.1 176.8,335.1 179.4,331.9 180.2,330.8 182.9,328.7 184.0,327.6 185.5,326.6 187.5,323.5 188.6,322.4 190.9,322.5 192.1,318.4 195.5,315.4 196.6,315.4 198.2,311.3 199.7,309.3 202.0,308.4 203.5,307.4 206.6,303.3 207.4,301.2 209.6,299.2 211.9,298.2 214.2,294.0 216.1,294.0 218.1,292.0 219.6,287.8 222.7,285.8 224.6,283.7 225.3,281.7 228.8,278.6 229.5,278.6 231.1,277.6 232.6,273.5 234.9,272.5 236.8,270.4 240.2,267.3 242.2,265.2 242.5,263.1 245.6,262.0 247.1,259.9 249.4,259.8 250.2,256.7 252.1,256.6 254.0,254.4 255.9,253.3 259.0,252.1 259.4,251.1 261.7,250.0 263.6,247.9 264.7,246.8 267.4,245.8 268.6,243.8 269.3,242.8 272.0,241.8 273.5,240.8 275.1,237.8 277.0,237.9 279.3,235.9 280.4,236.0 281.6,235.0 283.9,234.1 285.8,230.0 287.7,228.0 288.8,228.1 291.5,226.1 293.0,223.0 295.3,220.9 295.7,220.9 298.0,218.8 300.3,215.7 302.6,215.6 305.7,211.3 307.2,208.1 310.2,205.9 310.6,203.8 314.5,199.5 315.6,196.3 318.3,195.1 319.8,194.0 321.7,192.9 323.6,188.6 325.5,188.6 326.3,186.5 328.6,182.3 330.9,181.3 332.8,179.2 334.0,177.1 336.3,176.1 337.4,175.1 339.3,173.0 340.5,170.9 343.5,169.9 344.7,168.9 346.6,167.8 347.7,165.7 349.6,165.7 351.9,163.6 353.8,162.6 354.6,161.6 356.5,161.6 358.1,160.6 360.3,157.5 362.6,157.6 364.2,155.6 365.3,153.6 368.0,152.7 368.8,152.8 371.4,150.9 373.0,151.0 374.1,149.0 376.4,148.1 378.7,145.1 379.9,144.1 383.3,144.2 384.8,142.1 387.1,139.0 389.0,137.9 390.2,137.9 391.3,136.8 392.9,135.7 395.2,133.4 397.1,133.3 399.7,132.1 402.8,129.8 404.3,128.7 406.2,126.6 408.5,126.6 409.7,125.5 412.8,121.5 415.0,121.6 416.6,118.6 418.1,116.6 420.8,116.7 421.9,115.7 423.8,115.8 425.4,111.7 426.5,111.8 429.2,109.7 430.0,107.7 433.0,107.6 433.4,106.6 435.7,105.5 437.2,105.4 439.1,103.3 441.4,101.1 442.2,100.1 445.3,98.9 447.9,97.8 448.3,96.8 449.9,95.7 452.1,94.6 453.7,91.5 456.0,91.5 457.9,90.5 459.4,87.4 460.9,87.4 463.2,85.4 464.8,85.4 466.3,82.3 468.2,80.2 470.5,80.2 471.3,79.1 473.2,77.0 475.1,75.9 477.4,74.8 478.9,73.8 480.8,71.7 482.7,70.6 484.3,69.6 485.8,69.6 486.6,65.5 488.5,64.5 491.2,61.5 493.5,60.5 494.6,59.5 496.1,56.3 498.0,54.2 500.7,53.1 503.8,48.8 504.9,44.6 508.4,44.4 509.1,42.3 511.1,40.1 513.0,36.9 514.5,35.8 516.0,31.6 517.9,27.5 518.7,27.5 521.0,22.3 521.0,23.0" stroke="#FF64B3"/>
<path d="M62.0,459.1 64.7,456.8 65.1,455.7 67.4,452.7 69.7,452.7 71.9,446.5 73.9,446.6 76.5,443.5 77.7,440.4 80.0,438.4 81.5,438.4 83.4,436.4 85.0,434.3 86.1,432.2 88.4,431.2 89.9,428.1 91.8,428.1 94.1,423.9 95.7,422.8 98.0,421.8 99.1,417.6 100.2,417.6 102.9,415.5 104.5,414.4 106.4,412.3 107.9,409.1 109.4,409.1 111.3,405.9 113.3,404.8 115.5,402.7 115.9,401.6 118.6,400.5 121.3,398.4 123.6,395.2 125.5,392.1 127.8,390.1 129.3,390.1 130.8,388.0 132.8,386.0 134.3,384.0 136.2,381.9 138.1,380.9 140.8,379.9 142.3,376.8 142.7,375.8 144.6,373.7 146.2,371.6 148.4,370.6 150.0,370.6 152.7,368.6 153.8,365.5 157.6,360.5 159.2,359.5 161.4,357.6 164.5,356.7 164.9,354.6 165.3,351.6 166.8,350.6 169.5,347.6 171.8,345.6 172.9,343.5 174.5,341.4 176.8,340.4 179.0,338.2 179.8,335.1 181.7,335.0 183.3,333.9 185.5,330.6 187.5,329.5 188.2,328.4 191.7,324.2 193.2,324.1 194.3,320.0 196.3,318.9 198.2,319.0 199.7,317.9 202.0,314.9 203.5,310.7 204.3,309.7 207.0,309.7 208.1,307.7 208.5,306.6 211.9,305.6 215.8,301.4 217.7,300.4 218.8,299.3 221.1,295.1 222.6,294.0 224.2,294.0 226.1,292.9 228.4,290.7 229.9,289.6 231.4,287.5 233.0,287.5 234.9,285.4 237.2,284.3 241.0,280.2 242.5,278.2 244.8,277.2 245.6,275.2 247.5,273.2 249.0,273.2 251.3,272.3 252.9,269.2 256.7,267.2 257.8,264.1 259.8,262.0 263.2,261.9 264.7,259.8 265.9,257.7 268.6,256.5 271.2,254.3 272.4,254.3 274.3,252.1 276.2,251.1 277.7,250.0 279.6,249.0 280.0,245.9 281.6,244.9 284.6,241.8 286.5,240.8 287.7,240.8 290.0,238.8 291.5,236.8 291.9,234.7 294.2,233.7 298.0,230.6 298.8,230.5 299.9,228.5 301.8,226.4 304.5,225.3 306.0,223.2 307.2,221.2 309.9,220.2 311.0,218.1 312.9,217.2 314.4,215.1 315.6,215.2 317.9,212.2 319.4,208.2 321.3,207.2 322.5,206.3 324.8,203.3 326.7,201.2 329.0,200.2 332.4,197.1 333.6,194.9 335.1,194.9 337.4,190.7 339.7,190.6 341.2,189.5 342.4,189.5 343.9,186.3 345.8,184.2 348.1,181.1 349.3,181.1 350.8,179.0 353.1,176.9 355.4,175.9 356.5,173.8 358.4,170.7 360.3,170.7 362.6,168.6 363.8,166.5 367.2,163.4 369.9,160.2 371.4,160.2 373.0,159.1 374.9,157.0 376.4,156.0 377.6,153.9 379.5,152.8 381.8,150.7 383.3,149.7 384.4,148.7 387.1,147.6 390.9,142.5 392.5,142.5 395.5,138.4 397.1,138.4 399.4,137.4 400.9,136.3 402.4,134.2 408.2,131.0 409.3,129.0 411.6,126.9 415.0,126.9 417.7,124.9 418.5,122.8 420.0,121.8 421.9,120.8 423.5,118.8 425.8,116.8 427.7,115.8 429.2,114.8 430.0,111.7 432.6,111.7 434.9,110.6 435.7,108.5 437.2,106.4 439.5,106.3 441.8,105.1 443.7,104.0 444.5,101.9 445.6,100.8 448.7,99.6 450.6,97.4 452.1,95.3 456.0,95.2 457.9,90.0 459.0,90.0 461.3,88.0 463.2,85.9 465.2,84.9 466.3,83.9 467.8,81.9 470.1,79.9 471.7,79.9 474.0,79.0 475.1,74.9 475.9,72.8 477.8,70.8 480.5,69.8 482.4,66.7 484.3,66.7 485.8,64.7 487.3,64.7 489.6,59.5 491.2,59.6 493.1,56.5 494.6,54.5 496.5,52.4 498.0,50.4 500.3,49.4 501.5,45.3 503.0,45.3 505.7,43.2 506.8,40.1 508.8,38.1 510.3,36.0 514.1,31.9 515.6,29.8 517.9,25.7 519.9,24.6 521.0,23.6 521.0,23.0" stroke="#FF6C92"/>
</g>
<rect x="39.5" y="1.5" width="504.0" height="479.0" fill="none" stroke="#6C6C6C" stroke-width="1"/>
<line x1="62.0" x2="62.0" y1="481.0" y2="483.9" class="tk"/>
<text transform="translate(62.0,494.0) scale(1,1.08)" class="tl" text-anchor="middle">1.00</text>
<line x1="36.0" x2="39.0" y1="459.1" y2="459.1" class="tk"/>
<text transform="translate(33.2,462.6) scale(1,1.08)" class="tl" text-anchor="end">0.00</text>
<line x1="176.8" x2="176.8" y1="481.0" y2="483.9" class="tk"/>
<text transform="translate(176.8,494.0) scale(1,1.08)" class="tl" text-anchor="middle">0.75</text>
<line x1="36.0" x2="39.0" y1="350.1" y2="350.1" class="tk"/>
<text transform="translate(33.2,353.6) scale(1,1.08)" class="tl" text-anchor="end">0.25</text>
<line x1="291.5" x2="291.5" y1="481.0" y2="483.9" class="tk"/>
<text transform="translate(291.5,494.0) scale(1,1.08)" class="tl" text-anchor="middle">0.50</text>
<line x1="36.0" x2="39.0" y1="241.1" y2="241.1" class="tk"/>
<text transform="translate(33.2,244.6) scale(1,1.08)" class="tl" text-anchor="end">0.50</text>
<line x1="406.2" x2="406.2" y1="481.0" y2="483.9" class="tk"/>
<text transform="translate(406.2,494.0) scale(1,1.08)" class="tl" text-anchor="middle">0.25</text>
<line x1="36.0" x2="39.0" y1="132.0" y2="132.0" class="tk"/>
<text transform="translate(33.2,135.5) scale(1,1.08)" class="tl" text-anchor="end">0.75</text>
<line x1="521.0" x2="521.0" y1="481.0" y2="483.9" class="tk"/>
<text transform="translate(521.0,494.0) scale(1,1.08)" class="tl" text-anchor="middle">0.00</text>
<line x1="36.0" x2="39.0" y1="23.0" y2="23.0" class="tk"/>
<text transform="translate(33.2,26.5) scale(1,1.08)" class="tl" text-anchor="end">1.00</text>
<text transform="translate(291.5,507.4) scale(1,1.08)" class="tt" text-anchor="middle">specificity</text>
<text transform="translate(9.9,240.9) rotate(-90) scale(1,1.08)" class="tt" text-anchor="middle">sensitivity</text>
<text transform="translate(562.4,128.6) scale(1,1.08)" class="tt">name</text>
<line x1="563.9" x2="579.3" y1="145.6" y2="145.6" stroke="#F8766D" class="lk"/>
<text transform="translate(587.2,149.2) scale(1,1.08)" class="ll">Sex</text>
<line x1="563.9" x2="579.3" y1="164.5" y2="164.5" stroke="#EC823C" class="lk"/>
<text transform="translate(587.2,168.1) scale(1,1.08)" class="ll">Smoking</text>
<line x1="563.9" x2="579.3" y1="183.5" y2="183.5" stroke="#DD8D00" class="lk"/>
<text transform="translate(587.2,187.1) scale(1,1.08)" class="ll">Diabetes</text>
<line x1="563.9" x2="579.3" y1="202.4" y2="202.4" stroke="#CA9700" class="lk"/>
<text transform="translate(587.2,206.0) scale(1,1.08)" class="ll">gxy</text>
<line x1="563.9" x2="579.3" y1="221.4" y2="221.4" stroke="#B3A000" class="lk"/>
<text transform="translate(587.2,225.0) scale(1,1.08)" class="ll">Drink</text>
<line x1="563.9" x2="579.3" y1="240.3" y2="240.3" stroke="#97A900" class="lk"/>
<text transform="translate(587.2,243.9) scale(1,1.08)" class="ll">Race</text>
<line x1="563.9" x2="579.3" y1="259.3" y2="259.3" stroke="#71B000" class="lk"/>
<text transform="translate(587.2,262.9) scale(1,1.08)" class="ll">Age</text>
<line x1="563.9" x2="579.3" y1="278.2" y2="278.2" stroke="#2FB600" class="lk"/>
<text transform="translate(587.2,281.9) scale(1,1.08)" class="ll">edu</text>
<line x1="563.9" x2="579.3" y1="297.2" y2="297.2" stroke="#00BB4B" class="lk"/>
<text transform="translate(587.2,300.8) scale(1,1.08)" class="ll">pir</text>
<line x1="563.9" x2="579.3" y1="316.1" y2="316.1" stroke="#00BF76" class="lk"/>
<text transform="translate(587.2,319.8) scale(1,1.08)" class="ll">Weight</text>
<line x1="563.9" x2="579.3" y1="335.1" y2="335.1" stroke="#00C098" class="lk"/>
<text transform="translate(587.2,338.7) scale(1,1.08)" class="ll">Hight</text>
<line x1="563.9" x2="579.3" y1="354.0" y2="354.0" stroke="#00C0B7" class="lk"/>
<text transform="translate(587.2,357.6) scale(1,1.08)" class="ll">Hip</text>
<line x1="632.5" x2="647.9" y1="145.6" y2="145.6" stroke="#00BDD1" class="lk"/>
<text transform="translate(655.8,149.2) scale(1,1.08)" class="ll">Waist</text>
<line x1="632.5" x2="647.9" y1="164.5" y2="164.5" stroke="#00B7E8" class="lk"/>
<text transform="translate(655.8,168.1) scale(1,1.08)" class="ll">BMI</text>
<line x1="632.5" x2="647.9" y1="183.5" y2="183.5" stroke="#00AEFA" class="lk"/>
<text transform="translate(655.8,187.1) scale(1,1.08)" class="ll">ABSI</text>
<line x1="632.5" x2="647.9" y1="202.4" y2="202.4" stroke="#3DA1FF" class="lk"/>
<text transform="translate(655.8,206.0) scale(1,1.08)" class="ll">CI</text>
<line x1="632.5" x2="647.9" y1="221.4" y2="221.4" stroke="#8F91FF" class="lk"/>
<text transform="translate(655.8,225.0) scale(1,1.08)" class="ll">WWI</text>
<line x1="632.5" x2="647.9" y1="240.3" y2="240.3" stroke="#BE80FF" class="lk"/>
<text transform="translate(655.8,243.9) scale(1,1.08)" class="ll">WHtR</text>
<line x1="632.5" x2="647.9" y1="259.3" y2="259.3" stroke="#DE71F9" class="lk"/>
<text transform="translate(655.8,262.9) scale(1,1.08)" class="ll">NHHR</text>
<line x1="632.5" x2="647.9" y1="278.2" y2="278.2" stroke="#F265E7" class="lk"/>
<text transform="translate(655.8,281.9) scale(1,1.08)" class="ll">SII</text>
<line x1="632.5" x2="647.9" y1="297.2" y2="297.2" stroke="#FE61CF" class="lk"/>
<text transform="translate(655.8,300.8) scale(1,1.08)" class="ll">VD</text>
<line x1="632.5" x2="647.9" y1="316.1" y2="316.1" stroke="#FF64B3" class="lk"/>
<text transform="translate(655.8,319.8) scale(1,1.08)" class="ll">HDL</text>
<line x1="632.5" x2="647.9" y1="335.1" y2="335.1" stroke="#FF6C92" class="lk"/>
<text transform="translate(655.8,338.7) scale(1,1.08)" class="ll">TC</text>
</svg>
</body></html>
